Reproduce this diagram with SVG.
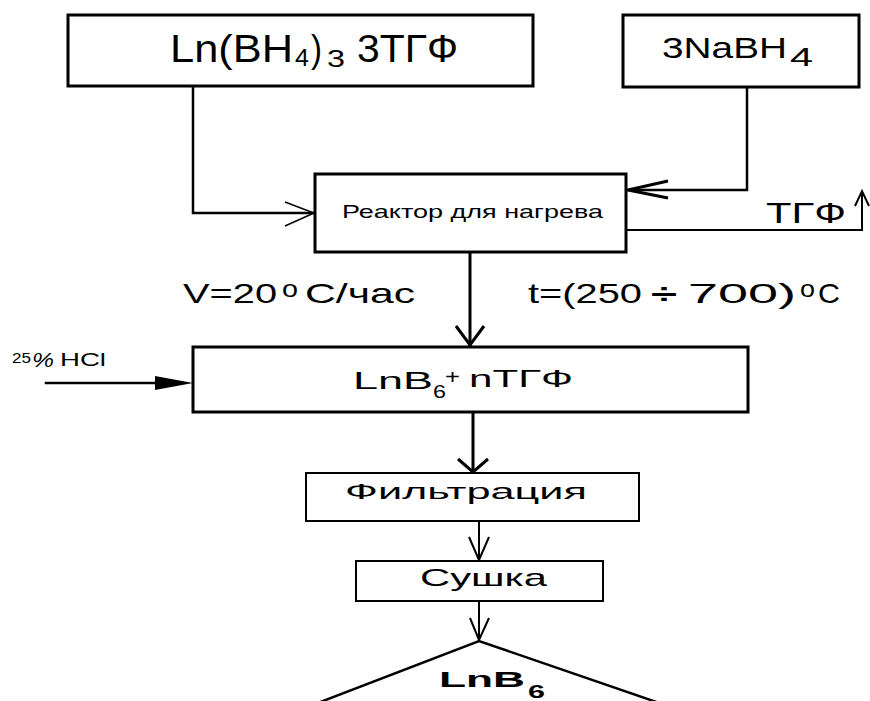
<svg xmlns="http://www.w3.org/2000/svg" width="870" height="701" viewBox="0 0 870 701">
<style>
text{font-family:"Liberation Sans",Arial,sans-serif;fill:#000}
.box{fill:#fff;stroke:#000;stroke-width:3}
.thin{fill:#fff;stroke:#000;stroke-width:2}
.ln{fill:none;stroke:#000;stroke-width:2.5;stroke-linecap:square}
.ah{fill:none;stroke:#000;stroke-width:1.5}
.ahb{fill:none;stroke:#000;stroke-width:3}
</style>
<rect width="870" height="701" fill="#fff"/>
<g id="connectors">
  <polyline class="ln" points="193,86 193,213 313,213"/>
  <polyline class="ah" points="285,202 314,213 285,226"/>
  <polyline class="ln" points="747,87 747,190 628,190"/>
  <polyline class="ahb" points="668,181 628,190 668,198"/>
  <polyline class="ln" style="stroke-width:2" points="627,230 862,230 862,192"/>
  <polyline class="ah" style="stroke-width:2" points="855,206 862,191 869,206"/>
  <line class="ln" style="stroke-width:3" x1="470" y1="252" x2="470" y2="345"/>
  <polyline class="ahb" points="456,326 470,345 484,326"/>
  <line class="ln" x1="46" y1="383" x2="160" y2="383"/>
  <polygon points="155,376 193,383 155,390" fill="#000"/>
  <line class="ln" style="stroke-width:3" x1="473" y1="413" x2="473" y2="471"/>
  <polyline class="ahb" points="458,459 473,472 488,459"/>
  <line class="ln" style="stroke-width:2" x1="479" y1="522" x2="479" y2="559"/>
  <polyline class="ah" style="stroke-width:2" points="469,537 479,560 489,537"/>
  <line class="ln" style="stroke-width:2" x1="479" y1="602" x2="479" y2="639"/>
  <polyline class="ah" style="stroke-width:2" points="470,618 479,640 489,618"/>
</g>
<g id="n1">
  <rect class="box" x="68" y="15" width="465" height="71"/>
  <text x="170" y="62" font-size="38" textLength="123" lengthAdjust="spacingAndGlyphs">Ln(BH</text>
  <text x="295" y="66" font-size="24" textLength="14" lengthAdjust="spacingAndGlyphs">4</text>
  <text x="311" y="62" font-size="38" textLength="11" lengthAdjust="spacingAndGlyphs">)</text>
  <text x="327" y="67" font-size="24" textLength="18" lengthAdjust="spacingAndGlyphs">3</text>
  <text x="357" y="62" font-size="38" textLength="101" lengthAdjust="spacingAndGlyphs">3ТГФ</text>
</g>
<g id="n2">
  <rect class="box" x="623" y="15" width="236" height="72"/>
  <text x="662" y="58" font-size="30" textLength="125" lengthAdjust="spacingAndGlyphs">3NaBH</text>
  <text x="790" y="66" font-size="26" textLength="23" lengthAdjust="spacingAndGlyphs">4</text>
</g>
<g id="n3">
  <rect class="box" x="315" y="174" width="311" height="78"/>
  <text x="342" y="218" font-size="19" textLength="261" lengthAdjust="spacingAndGlyphs">Реактор для нагрева</text>
</g>
<g id="lbl-thf">
  <text x="766" y="223" font-size="29" textLength="80" lengthAdjust="spacingAndGlyphs">ТГФ</text>
</g>
<g id="lbl-v">
  <text x="183" y="303" font-size="28" textLength="94" lengthAdjust="spacingAndGlyphs">V=20</text>
  <text x="282" y="297" font-size="24" textLength="16" lengthAdjust="spacingAndGlyphs">o</text>
  <text x="305" y="303" font-size="28" textLength="110" lengthAdjust="spacingAndGlyphs">C/час</text>
</g>
<g id="lbl-t">
  <text x="528" y="303" font-size="28" textLength="114" lengthAdjust="spacingAndGlyphs">t=(250</text>
  <text x="651" y="303" font-size="28" font-weight="bold" textLength="26" lengthAdjust="spacingAndGlyphs">÷</text>
  <text x="688" y="303" font-size="28" textLength="108" lengthAdjust="spacingAndGlyphs">700)</text>
  <text x="800" y="297" font-size="24" textLength="15" lengthAdjust="spacingAndGlyphs">o</text>
  <text x="818" y="303" font-size="28" textLength="22" lengthAdjust="spacingAndGlyphs">C</text>
</g>
<g id="lbl-hcl">
  <text x="12" y="363" font-size="15" textLength="19" lengthAdjust="spacingAndGlyphs">25</text>
  <text x="32" y="367" font-size="20" font-style="italic" textLength="22" lengthAdjust="spacingAndGlyphs">%</text>
  <text x="60" y="366" font-size="19" textLength="46" lengthAdjust="spacingAndGlyphs">HCl</text>
</g>
<g id="n4">
  <rect class="box" x="193" y="347" width="555" height="65"/>
  <text x="353" y="389" font-size="24" textLength="80" lengthAdjust="spacingAndGlyphs">LnB</text>
  <text x="433" y="398" font-size="18" textLength="13" lengthAdjust="spacingAndGlyphs">6</text>
  <text x="445" y="384" font-size="20" textLength="15" lengthAdjust="spacingAndGlyphs">+</text>
  <text x="469" y="387" font-size="24" textLength="104" lengthAdjust="spacingAndGlyphs">nТГФ</text>
</g>
<g id="n5">
  <rect class="thin" x="306" y="473" width="333" height="48"/>
  <text x="345" y="499" font-size="22" textLength="242" lengthAdjust="spacingAndGlyphs">Фильтрация</text>
</g>
<g id="n6">
  <rect class="thin" x="356" y="561" width="247" height="40"/>
  <text x="420" y="586" font-size="24" textLength="127" lengthAdjust="spacingAndGlyphs">Сушка</text>
</g>
<g id="n7">
  <polyline fill="none" stroke="#000" stroke-width="2.5" points="310,706 479,641 668,706"/>
  <text x="439" y="687" font-size="22" font-weight="bold" textLength="86" lengthAdjust="spacingAndGlyphs">LnB</text>
  <text x="528" y="698" font-size="18" font-weight="bold" textLength="17" lengthAdjust="spacingAndGlyphs">6</text>
</g>
</svg>
